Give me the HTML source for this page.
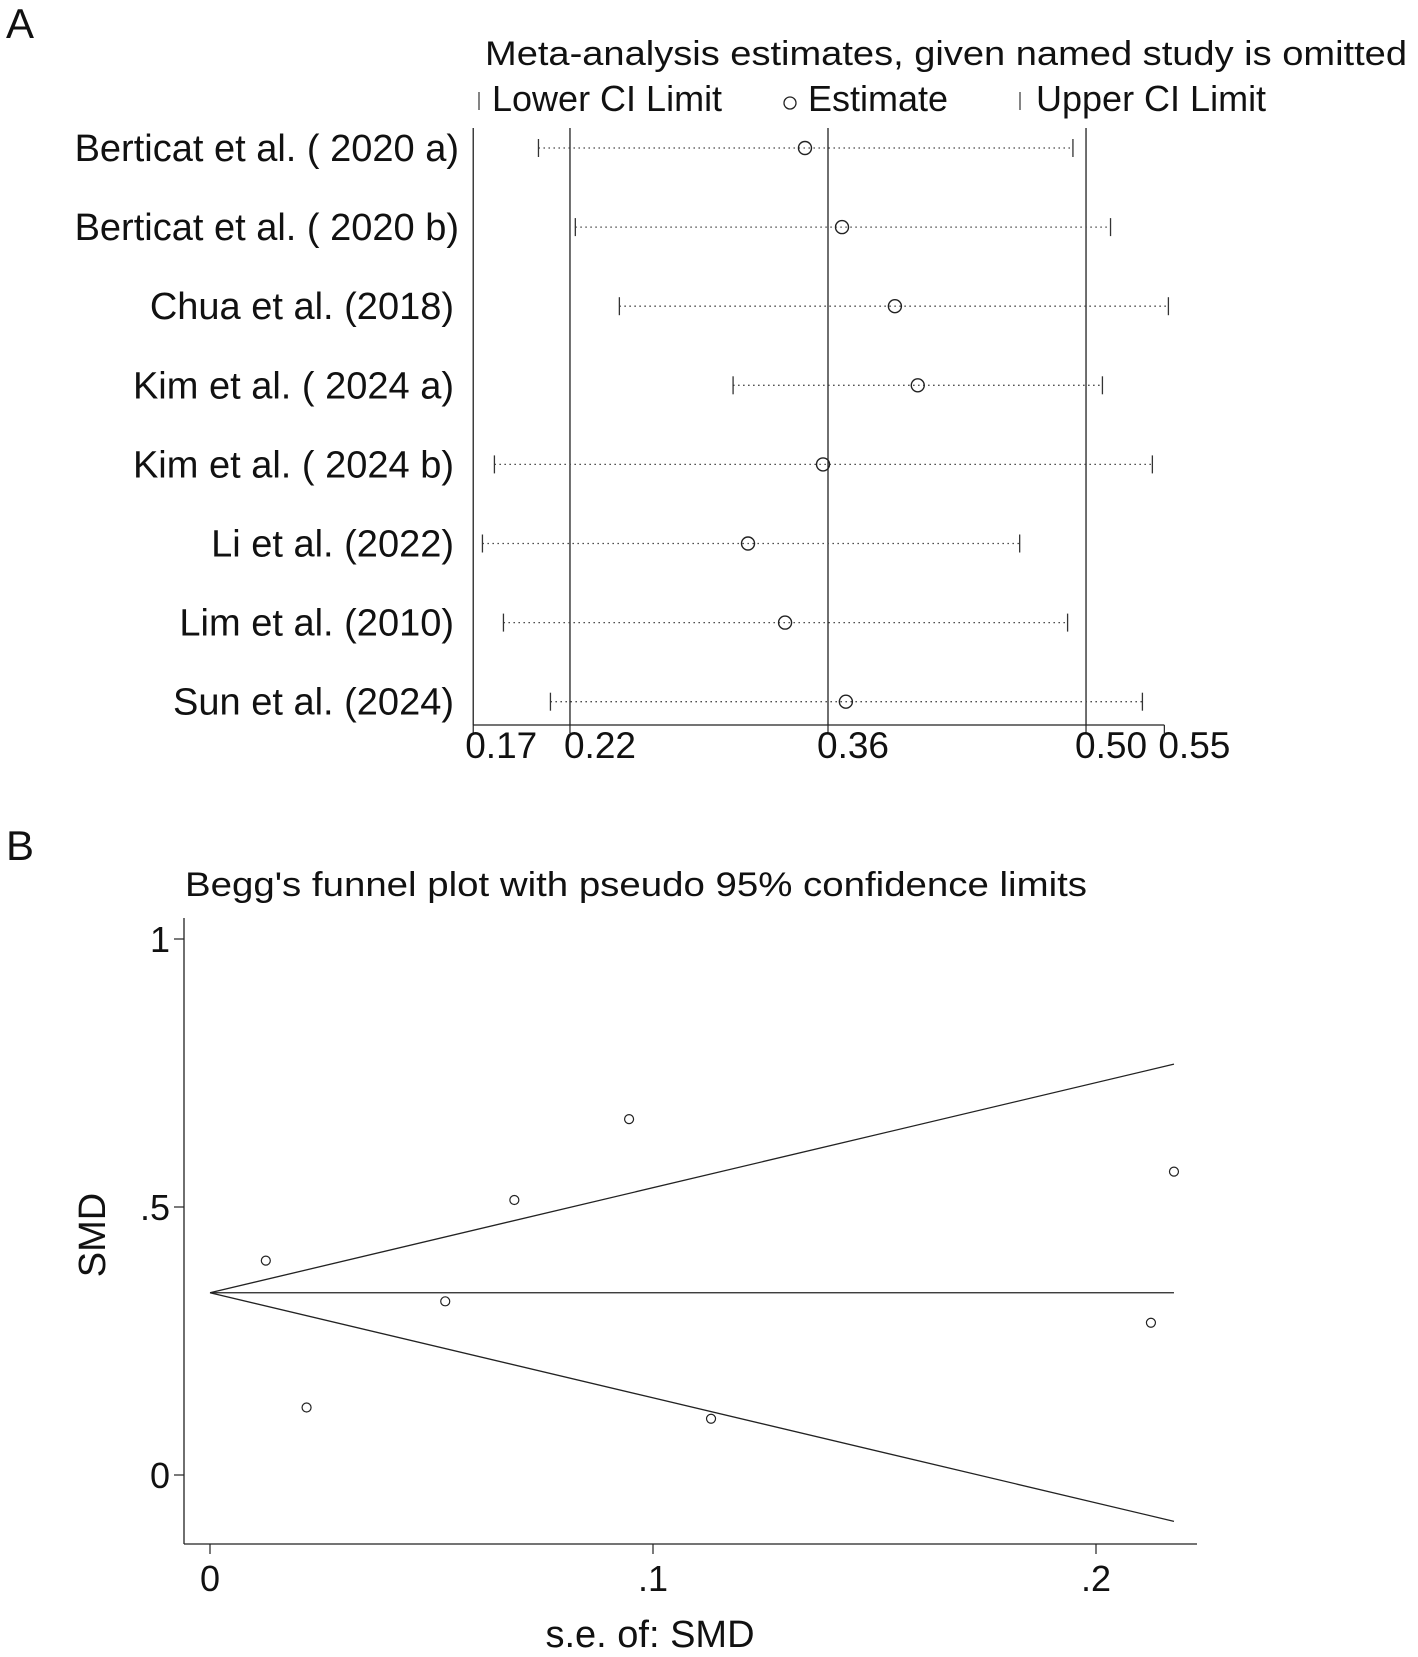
<!DOCTYPE html>
<html><head><meta charset="utf-8"><style>
body{margin:0;background:#fff}
svg text{font-family:"Liberation Sans",Arial,sans-serif;fill:#111}
</style></head><body>
<svg id="fig" width="1418" height="1652" viewBox="0 0 1418 1652" xmlns="http://www.w3.org/2000/svg">
<g id="pa">
<text x="6" y="38" font-size="42">A</text>
<text x="485" y="65" font-size="34" textLength="922" lengthAdjust="spacingAndGlyphs">Meta-analysis estimates, given named study is omitted</text>
<g>
<line x1="479" y1="92" x2="479" y2="110" stroke="#333" stroke-width="1.2"/>
<text x="492" y="111" font-size="36">Lower CI Limit</text>
<circle cx="790" cy="103" r="6" fill="none" stroke="#222" stroke-width="1.3"/>
<text x="808" y="111" font-size="36">Estimate</text>
<line x1="1020" y1="92" x2="1020" y2="110" stroke="#333" stroke-width="1.2"/>
<text x="1036" y="111" font-size="36">Upper CI Limit</text>
</g>
</g>
<g id="pb">
<text x="6" y="860" font-size="42">B</text>
<text x="185" y="896" font-size="34" textLength="902" lengthAdjust="spacingAndGlyphs">Begg's funnel plot with pseudo 95% confidence limits</text>
</g>
</svg>
<script>
// Panel A data
const studies = ["Berticat et al. ( 2020 a)","Berticat et al. ( 2020 b)","Chua et al. (2018)","Kim et al. ( 2024 a)","Kim et al. ( 2024 b)","Li et al. (2022)","Lim et al. (2010)","Sun et al. (2024)"];
const lowerCI = [0.2029,0.2229,0.2468,0.3085,0.1790,0.1725,0.1839,0.2094];
const estimates = [0.3475,0.3676,0.3963,0.4087,0.3573,0.3166,0.3367,0.3697];
const upperCI = [0.4929,0.5133,0.5447,0.5089,0.5360,0.4640,0.4900,0.5306];
const refLines = [0.22,0.36,0.50];
const aTickLabels = ["0.17","0.22","0.36","0.50","0.55"];
const aTickVals = [0.1675,0.22,0.36,0.50,0.5425];
// Panel B data
const seVals = [0.0126,0.0218,0.0531,0.0687,0.0946,0.1131,0.2124,0.2176];
const smdVals = [0.400,0.126,0.324,0.513,0.664,0.105,0.284,0.566];
const pooled = [0.34];
const seMax = [0.2176];
const yTickVals = [0,0.5,1];
const yTickLabels = ["0",".5","1"];
const xTickVals = [0,0.1,0.2];
const xTickLabels = ["0",".1",".2"];

const NS="http://www.w3.org/2000/svg";
function mk(tag,attrs,parent){const e=document.createElementNS(NS,tag);for(const k in attrs)e.setAttribute(k,attrs[k]);parent.appendChild(e);return e;}
const pa=document.getElementById('pa'), pb=document.getElementById('pb');

// Panel A scales
const ax=v=>828+(v-0.36)*1843;
const rowY=i=>148+i*79.1;
const aTop=128, aBot=725;
let e;
e=mk('line',{x1:ax(0.1675),y1:aTop,x2:ax(0.1675),y2:aBot,stroke:'#222','stroke-width':1.3},pa);


e=mk('line',{x1:ax(0.1675),y1:aBot,x2:ax(0.5425),y2:aBot,stroke:'#222','stroke-width':1.3},pa);


refLines.forEach(v=>{
  e=mk('line',{x1:ax(v),y1:aTop,x2:ax(v),y2:aBot,stroke:'#222','stroke-width':1.3},pa);
  
  
});
const tickOffsets=[-8,-6,-11,-11,-6];
aTickVals.forEach((v,i)=>{
  e=mk('line',{x1:ax(v),y1:aBot,x2:ax(v),y2:aBot+8,stroke:'#222','stroke-width':1.2},pa);
  
  
  e=mk('text',{x:ax(v)+tickOffsets[i],y:aBot+33,'font-size':37,'text-anchor':'start'},pa);
  e.textContent=aTickLabels[i];
  
  
});
studies.forEach((s,i)=>{
  const y=rowY(i);
  e=mk('text',{x:i<2?459:454,y:y+13,'font-size':38,'text-anchor':'end'},pa);
  e.textContent=s;
  
  
  e=mk('line',{x1:ax(lowerCI[i]),y1:y,x2:ax(upperCI[i]),y2:y,stroke:'#444','stroke-width':1.3,'stroke-dasharray':'1.5 3.5'},pa);
  
  
  e=mk('line',{x1:ax(lowerCI[i]),y1:y-9,x2:ax(lowerCI[i]),y2:y+9,stroke:'#333','stroke-width':1.3},pa);
  
  
  e=mk('line',{x1:ax(upperCI[i]),y1:y-9,x2:ax(upperCI[i]),y2:y+9,stroke:'#333','stroke-width':1.3},pa);
  
  
  e=mk('circle',{cx:ax(estimates[i]),cy:y,r:6.5,fill:'none',stroke:'#222','stroke-width':1.4},pa);
  
  
});

// Panel B scales
const bx=v=>210+v*4430;
const by=v=>1475-v*536;
const bL=184, bTop=918, bBot=1544, bR=1197;
e=mk('line',{x1:bL,y1:bTop,x2:bL,y2:bBot,stroke:'#222','stroke-width':1.3},pb);


e=mk('line',{x1:bL,y1:bBot,x2:bR,y2:bBot,stroke:'#222','stroke-width':1.3},pb);


yTickVals.forEach((v,i)=>{
  e=mk('line',{x1:bL-10,y1:by(v),x2:bL,y2:by(v),stroke:'#222','stroke-width':1.2},pb);
  
  
  e=mk('text',{x:bL-14,y:by(v)+13,'font-size':36,'text-anchor':'end'},pb);
  e.textContent=yTickLabels[i];
  
  
});
xTickVals.forEach((v,i)=>{
  e=mk('line',{x1:bx(v),y1:bBot,x2:bx(v),y2:bBot+10,stroke:'#222','stroke-width':1.2},pb);
  
  
  e=mk('text',{x:bx(v),y:bBot+47,'font-size':36,'text-anchor':'middle'},pb);
  e.textContent=xTickLabels[i];
  
  
});
e=mk('text',{x:650,y:1647,'font-size':38,'text-anchor':'middle'},pb);
e.textContent='s.e. of: SMD';


e=mk('text',{x:105,y:1235,'font-size':38,'text-anchor':'middle',transform:'rotate(-90 105 1235)'},pb);
e.textContent='SMD';


const p=pooled[0], sm=seMax[0];
e=mk('line',{x1:bx(0),y1:by(p),x2:bx(sm),y2:by(p),stroke:'#222','stroke-width':1.3},pb);


e=mk('line',{x1:bx(0),y1:by(p),x2:bx(sm),y2:by(p+1.96*sm),stroke:'#222','stroke-width':1.3},pb);


e=mk('line',{x1:bx(0),y1:by(p),x2:bx(sm),y2:by(p-1.96*sm),stroke:'#222','stroke-width':1.3},pb);


seVals.forEach((s,i)=>{
  e=mk('circle',{cx:bx(s),cy:by(smdVals[i]),r:4.5,fill:'none',stroke:'#222','stroke-width':1.2},pb);
  
  
});
</script>
</body></html>
